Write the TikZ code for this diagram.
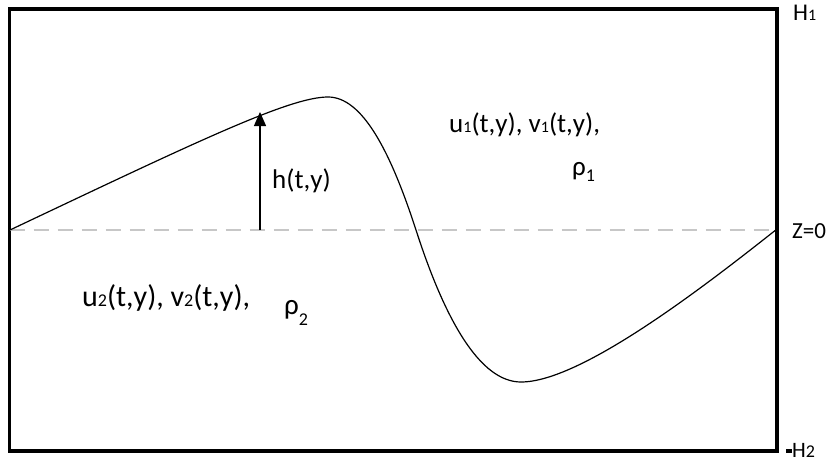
\documentclass[tikz,border=0pt]{standalone}
\usepackage{fontspec}
\setmainfont{Carlito}
\usetikzlibrary{arrows.meta}
\newcommand\smd[1]{{\fontsize{16}{16}\selectfont #1}}
\newcommand\bsmd[1]{{\fontsize{18}{18}\selectfont #1}}
\newcommand\lowd[2]{\raisebox{#1}{\fontsize{18}{18}\selectfont #2}}
\begin{document}
\begin{tikzpicture}[x=1pt,y=-1pt,
  frame/.style={line width=3.5pt, draw=black},
  zeroline/.style={draw=black!22, line width=1.8pt, dash pattern=on 15pt off 9pt},
  iface/.style={draw=black, line width=1.2pt},
  harrow/.style={line width=1.2pt, -{Triangle[length=14pt,width=12pt]}},
  lbl/.style={anchor=base west, inner sep=0pt, font=\fontsize{27}{31}\selectfont},
  side/.style={anchor=base west, inner sep=0pt, font=\fontsize{23}{26}\selectfont},
]
\useasboundingbox (0,0) rectangle (830,461);
\draw[frame] (9.5,9) rectangle (777,451);
\coordinate (zl) at (9.5,230);
\coordinate (zr) at (777,230);
\draw[zeroline] (zl) -- (zr);
\coordinate (c0) at (10,230);
\coordinate (peak) at (328,97);
\coordinate (cross) at (416,230);
\coordinate (trough) at (521,382);
\coordinate (c1) at (777,229);
\draw[iface] (c0) .. controls (200,140) and (290,97) .. (peak)
  .. controls (362,97) and (390,150) .. (cross)
  .. controls (445,320) and (480,382) .. (trough)
  .. controls (580,382) and (700,290) .. (c1);
\coordinate (hb) at (260,230);
\coordinate (ht) at (260,112);
\draw[harrow] (hb) -- (ht);
\node[lbl] (hlab) at (272,188) {h(t,y)};
\node[lbl] (up) at (449,132) {u\smd{1}(t,y), v\smd{1}(t,y),};
\node[lbl] (rho1) at (572,175) {ρ\lowd{-6pt}{1}};
\node[lbl,font=\fontsize{30}{34}\selectfont] (low) at (82,306) {u\bsmd{2}(t,y), v\bsmd{2}(t,y),};
\node[lbl,font=\fontsize{29}{33}\selectfont] (rho2) at (284,314) {ρ\lowd{-11pt}{2}};
\node[side,font=\fontsize{24}{28}\selectfont] (H1) at (793,20) {H\smd{1}};
\node[side] (Z0) at (792,238) {Z=0};
\node[side,font=\fontsize{22}{25}\selectfont] (H2) at (786,457) {\rule[0.2em]{6pt}{3.5pt}H\lowd{0pt}{2}};
\end{tikzpicture}
\end{document}
